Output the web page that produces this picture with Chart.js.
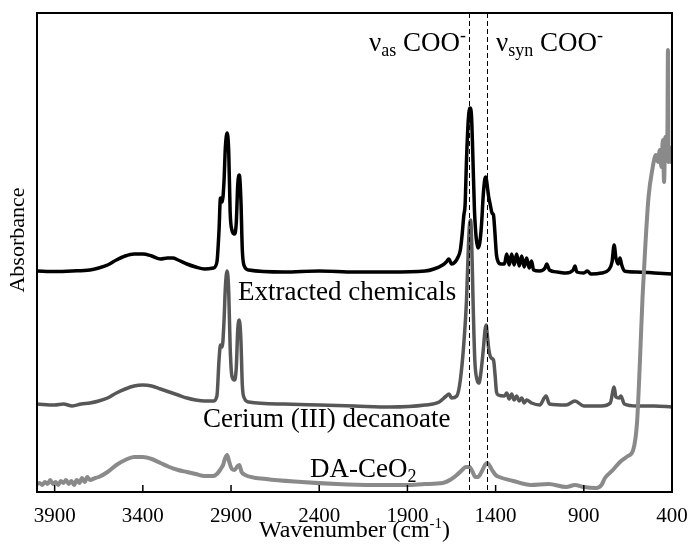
<!DOCTYPE html>
<html>
<head>
<meta charset="utf-8">
<script src="https://cdn.jsdelivr.net/npm/chart.js@4.4.1/dist/chart.umd.min.js"></script>
<style>
  body { margin: 0; background: #fff; }
  #wrap { width: 691px; height: 545px; }
</style>
</head>
<body>
<div id="wrap"><canvas id="myChart" width="691" height="545"></canvas></div>
<script>
// [wavenumber cm-1, absorbance a.u. (curves are offset)]
var extracted = [
  [4000,2.21],[3900,2.205],[3800,2.21],[3700,2.22],[3650,2.24],[3600,2.27],[3550,2.32],[3500,2.36],[3450,2.38],[3400,2.38],
  [3350,2.36],[3300,2.33],[3260,2.34],[3230,2.34],[3200,2.32],[3150,2.28],[3100,2.25],[3050,2.23],[3000,2.24],[2980,2.30],
  [2968,2.62],[2960,2.94],[2950,2.90],[2940,3.10],[2932,3.45],[2922,3.59],[2913,3.40],[2905,2.80],[2895,2.62],[2880,2.58],
  [2870,2.70],[2862,3.07],[2853,3.17],[2844,2.92],[2836,2.42],[2825,2.26],[2800,2.22],[2600,2.20],[2400,2.21],[2200,2.20],
  [2000,2.20],[1800,2.21],[1750,2.23],[1700,2.27],[1680,2.30],[1665,2.33],[1650,2.28],[1630,2.30],[1613,2.35],[1600,2.42],
  [1590,2.57],[1580,2.77],[1573,2.87],[1565,3.32],[1555,3.72],[1545,3.84],[1537,3.77],[1530,3.42],[1520,2.82],[1510,2.54],
  [1500,2.44],[1490,2.49],[1480,2.67],[1470,2.97],[1462,3.12],[1455,3.15],[1448,3.07],[1440,2.96],[1430,2.87],[1420,2.79],
  [1412,2.77],[1405,2.62],[1395,2.37],[1385,2.30],[1370,2.28],[1350,2.28],[1337,2.38],[1323,2.27],[1309,2.38],[1295,2.27],
  [1281,2.38],[1266,2.26],[1252,2.36],[1238,2.25],[1224,2.34],[1210,2.24],[1196,2.31],[1185,2.22],[1150,2.21],[1120,2.24],
  [1110,2.28],[1095,2.22],[1050,2.20],[1000,2.19],[960,2.22],[950,2.26],[940,2.20],[900,2.19],[880,2.21],[860,2.18],
  [800,2.19],[760,2.22],[740,2.30],[728,2.47],[718,2.34],[705,2.28],[695,2.34],[685,2.27],[670,2.21],[600,2.20],
  [500,2.19],[400,2.18]
];
var ceriumDecanoate = [
  [4000,0.88],[3900,0.87],[3850,0.88],[3800,0.86],[3750,0.88],[3700,0.89],[3650,0.91],[3600,0.94],[3550,0.99],[3500,1.03],
  [3450,1.06],[3400,1.07],[3350,1.06],[3300,1.03],[3250,1.00],[3200,0.97],[3150,0.94],[3100,0.92],[3050,0.91],[3000,0.91],
  [2980,0.96],[2968,1.32],[2960,1.47],[2950,1.45],[2940,1.70],[2932,2.05],[2922,2.21],[2913,2.00],[2905,1.45],[2895,1.16],
  [2880,1.12],[2870,1.25],[2862,1.62],[2853,1.72],[2844,1.52],[2836,1.07],[2825,0.94],[2800,0.90],[2600,0.88],[2400,0.87],
  [2200,0.86],[2000,0.85],[1800,0.87],[1720,0.90],[1680,0.96],[1664,0.98],[1650,0.94],[1620,0.96],[1600,1.12],[1580,1.49],
  [1565,1.92],[1555,2.42],[1548,2.67],[1542,2.72],[1536,2.52],[1528,1.92],[1518,1.32],[1505,1.12],[1495,1.09],[1485,1.17],
  [1470,1.42],[1460,1.62],[1454,1.67],[1447,1.57],[1438,1.42],[1425,1.34],[1412,1.32],[1403,1.17],[1395,1.00],[1385,0.97],
  [1350,0.96],[1337,0.99],[1323,0.93],[1309,0.98],[1295,0.92],[1281,0.96],[1266,0.91],[1252,0.94],[1238,0.89],[1224,0.92],
  [1196,0.89],[1150,0.87],[1114,0.96],[1095,0.88],[1000,0.87],[950,0.91],[900,0.86],[800,0.86],[750,0.89],[728,1.05],
  [718,0.95],[700,0.94],[690,0.96],[670,0.88],[600,0.86],[500,0.86],[400,0.85]
];
var daCeO2 = [
  [4000,0.08],[3985,0.09],[3970,0.07],[3955,0.10],[3940,0.08],[3925,0.12],[3910,0.08],[3895,0.10],[3880,0.07],[3865,0.11],
  [3850,0.09],[3835,0.12],[3820,0.08],[3805,0.11],[3790,0.07],[3775,0.12],[3760,0.09],[3745,0.14],[3730,0.10],[3715,0.15],
  [3700,0.12],[3670,0.14],[3650,0.15],[3600,0.20],[3550,0.27],[3500,0.32],[3450,0.35],[3400,0.35],[3350,0.33],[3300,0.29],
  [3250,0.25],[3200,0.22],[3150,0.20],[3100,0.18],[3050,0.16],[3000,0.16],[2980,0.18],[2962,0.22],[2955,0.24],[2945,0.27],
  [2935,0.33],[2922,0.37],[2910,0.30],[2895,0.23],[2880,0.22],[2862,0.26],[2853,0.27],[2840,0.20],[2820,0.17],[2700,0.13],
  [2500,0.10],[2300,0.08],[2100,0.07],[1900,0.07],[1800,0.08],[1700,0.09],[1650,0.13],[1620,0.17],[1590,0.22],[1570,0.25],
  [1548,0.25],[1530,0.20],[1515,0.15],[1500,0.15],[1480,0.20],[1460,0.27],[1450,0.29],[1440,0.28],[1420,0.22],[1400,0.17],
  [1380,0.15],[1300,0.11],[1200,0.07],[1100,0.08],[1000,0.05],[950,0.07],[900,0.05],[830,0.04],[800,0.07],[780,0.14],
  [735,0.22],[695,0.30],[650,0.36],[620,0.42],[598,0.70],[582,1.30],[567,1.95],[550,2.50],[533,2.95],[512,3.22],
  [491,3.37],[480,3.30],[469,3.42],[460,3.25],[452,3.52],[445,3.10],[438,3.55],[430,3.40],[426,3.60],[423,4.42],
  [420,3.30],[412,3.45],[405,3.30],[400,3.42]
];
var seriesNames = ['Extracted chemicals', 'Cerium (III) decanoate', 'DA-CeO2'];
var seriesColors = ['#000000', '#575757', '#8a8a8a'];
var xTicks = [3900, 3400, 2900, 2400, 1900, 1400, 900, 400];
var cooLines = [1549, 1451]; // nu_as and nu_syn COO- positions

var serif = "'Liberation Serif', 'Times New Roman', serif";

function toPoints(arr) {
    return arr.map(function (p) { return { x: p[0], y: p[1] }; });
}

// draw a run of text pieces (for sub/superscripts)
function partsWidth(ctx, parts) {
    var w = 0;
    parts.forEach(function (p) {
        ctx.font = p.size + 'px ' + serif;
        w += ctx.measureText(p.t).width;
    });
    return w;
}
function drawParts(ctx, parts, x, y) {
    parts.forEach(function (p) {
        ctx.font = p.size + 'px ' + serif;
        ctx.fillText(p.t, x, y + (p.dy || 0));
        x += ctx.measureText(p.t).width;
    });
}

var overlay = {
    id: 'overlay',
    afterDraw: function (chart) {
        var ctx = chart.ctx;
        var a = chart.chartArea;
        var x = chart.scales.x;
        ctx.save();
        ctx.strokeStyle = '#000';
        ctx.fillStyle = '#000';

        // dashed marker lines
        ctx.lineWidth = 1;
        ctx.setLineDash([5, 3]);
        cooLines.forEach(function (w) {
            var px = Math.round(x.getPixelForValue(w)) + 0.5;
            ctx.beginPath();
            ctx.moveTo(px, a.top);
            ctx.lineTo(px, a.bottom);
            ctx.stroke();
        });
        ctx.setLineDash([]);

        // frame
        ctx.lineWidth = 2;
        ctx.strokeRect(a.left, a.top, a.right - a.left, a.bottom - a.top);

        // inward tick marks
        ctx.lineWidth = 1.5;
        xTicks.forEach(function (v) {
            var px = x.getPixelForValue(v);
            ctx.beginPath();
            ctx.moveTo(px, a.bottom);
            ctx.lineTo(px, a.bottom - 7);
            ctx.stroke();
        });

        ctx.textAlign = 'left';
        ctx.textBaseline = 'alphabetic';

        drawParts(ctx, [{ t: '\u03bd', size: 27 }, { t: 'as', size: 18, dy: 5 }, { t: ' COO', size: 27 }, { t: '-', size: 18, dy: -10 }], 369, 51);
        drawParts(ctx, [{ t: '\u03bd', size: 27 }, { t: 'syn', size: 18, dy: 5 }, { t: ' COO', size: 27 }, { t: '-', size: 18, dy: -10 }], 496, 51);

        drawParts(ctx, [{ t: seriesNames[0], size: 27 }], 238, 300);
        drawParts(ctx, [{ t: seriesNames[1], size: 27 }], 203, 427);
        drawParts(ctx, [{ t: 'DA-CeO', size: 27 }, { t: '2', size: 18, dy: 5 }], 310, 477);

        // x axis title
        var title = [{ t: 'Wavenumber (cm', size: 24 }, { t: '-1', size: 15, dy: -9 }, { t: ')', size: 24 }];
        var tw = partsWidth(ctx, title);
        drawParts(ctx, title, (a.left + a.right) / 2 - tw / 2, 537);

        // y axis title
        ctx.translate(18, 240);
        ctx.rotate(-Math.PI / 2);
        ctx.textAlign = 'center';
        ctx.textBaseline = 'middle';
        ctx.font = '22px ' + serif;
        ctx.fillText('Absorbance', 0, 0);

        ctx.restore();
    }
};

var ctx = document.getElementById('myChart');
new Chart(ctx, {
    type: 'line',
    data: {
        datasets: [
            { label: seriesNames[2], data: toPoints(daCeO2), borderColor: seriesColors[2], borderWidth: 4 },
            { label: seriesNames[0], data: toPoints(extracted), borderColor: seriesColors[0], borderWidth: 3.5 },
            { label: seriesNames[1], data: toPoints(ceriumDecanoate), borderColor: seriesColors[1], borderWidth: 3.5 }
        ]
    },
    options: {
        responsive: false,
        animation: false,
        layout: { padding: { top: 13, right: 19, left: 0, bottom: 0 } },
        elements: {
            point: { radius: 0 },
            line: { cubicInterpolationMode: 'monotone', fill: false }
        },
        plugins: { legend: { display: false }, tooltip: { enabled: false } },
        scales: {
            x: {
                type: 'linear',
                min: 400,
                max: 4000,
                reverse: true,
                grid: { display: false, drawTicks: false },
                border: { display: false },
                afterBuildTicks: function (scale) {
                    scale.ticks = xTicks.map(function (v) { return { value: v }; });
                },
                afterFit: function (scale) {
                    scale.height = 53;
                    scale.paddingLeft = 0;
                    scale.paddingRight = 0;
                },
                ticks: {
                    autoSkip: false,
                    maxRotation: 0,
                    padding: 12,
                    color: '#000',
                    font: { family: serif, size: 21 },
                    callback: function (v) { return String(v); }
                }
            },
            y: {
                min: 0,
                max: 4.79,
                grid: { display: false, drawTicks: false },
                border: { display: false },
                ticks: { display: false },
                afterFit: function (scale) { scale.width = 37; }
            }
        }
    },
    plugins: [overlay]
});
</script>
</body>
</html>
